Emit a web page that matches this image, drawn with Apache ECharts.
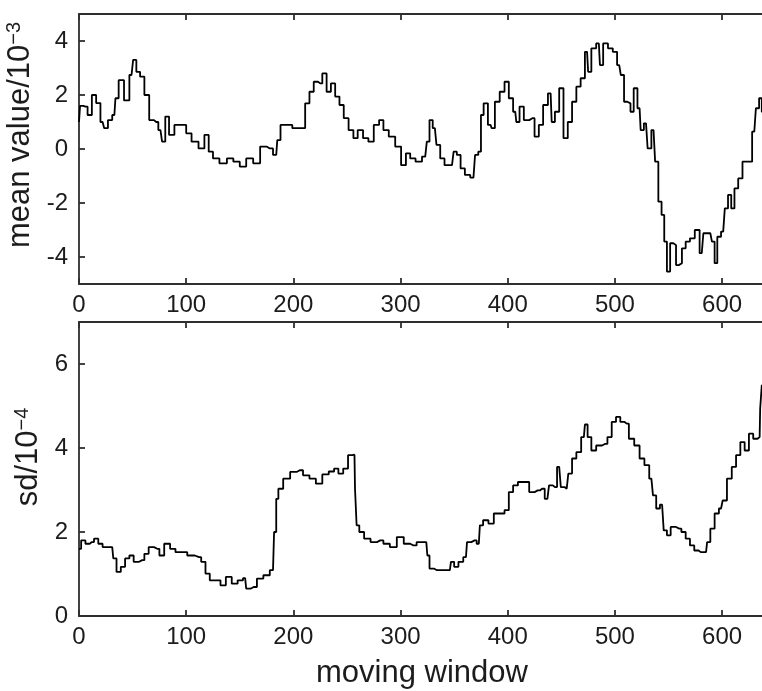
<!DOCTYPE html>
<html>
<head>
<meta charset="utf-8">
<script src="https://cdn.jsdelivr.net/npm/echarts@6/dist/echarts.min.js"></script>
<style>
html,body{margin:0;padding:0;background:#fff;}
#chart{width:762px;height:691px;}
</style>
</head>
<body>
<div id="chart"></div>
<script>
// ---- data ----
var xTicks = [0, 100, 200, 300, 400, 500, 600];
var meanTicks = [-4, -2, 0, 2, 4];
var sdTicks = [0, 2, 4, 6];

var meanX = [0,2,6,10,14,18,22,25,29,33,
  35,39,45,49,52,55,59,63,68,72,
  76,79,82,86,92,98,102,108,115,119,
  123,127,135,141,147,153,159,166,172,178,
  184,186,190,196,202,209,213,217,221,225,
  229,233,237,241,245,249,254,258,262,268,
  272,278,282,286,292,298,303,307,311,317,
  323,326,328,332,335,339,343,348,351,354,
  358,362,368,371,374,376,379,384,386,390,
  395,399,403,407,409,413,417,423,427,431,
  435,440,442,446,450,454,458,462,466,470,
  474,476,480,485,487,491,496,500,504,507,
  510,513,516,519,523,525,529,532,536,539,
  542,545,547,550,553,556,558,561,564,568,
  572,577,581,584,589,592,594,597,601,604,
  607,610,613,617,621,626,630,633,636,638,
  640];
var meanY = [1.0,1.6,1.57,1.26,2.0,1.7,1.0,0.77,1.07,1.26,
  1.88,2.55,1.8,2.74,3.3,2.86,2.68,2.0,1.07,1.0,
  0.7,0.27,1.2,0.52,0.89,0.89,0.58,0.27,0.02,0.52,
  -0.1,-0.35,-0.53,-0.35,-0.47,-0.65,-0.35,-0.53,0.09,0.02,
  -0.22,0.33,0.89,0.89,0.77,0.77,1.69,2.12,2.49,2.43,
  2.8,2.12,2.43,1.94,1.63,1.14,0.7,0.4,0.7,0.4,
  0.27,0.89,1.07,0.7,0.46,0.09,-0.6,-0.16,-0.35,-0.47,
  -0.28,0.27,1.07,0.77,0.15,-0.35,-0.6,-0.6,-0.1,-0.22,
  -0.72,-0.96,-1.06,-0.22,-0.1,1.26,1.69,0.89,0.77,1.75,
  2.12,2.49,1.88,1.38,1.0,1.57,1.07,1.14,0.46,0.89,
  1.63,2.06,1.0,1.38,2.25,0.4,1.0,1.75,2.31,2.62,
  3.6,2.86,3.73,3.91,3.11,3.91,3.73,3.6,3.11,2.74,
  1.75,1.69,1.38,2.25,1.51,0.7,0.95,0.02,0.7,-0.47,
  -1.95,-2.44,-3.43,-4.54,-3.49,-3.56,-4.3,-4.23,-3.68,-3.43,
  -3.31,-3.0,-3.86,-3.12,-3.12,-3.43,-4.23,-3.25,-3.06,-2.2,
  -1.7,-2.2,-1.46,-1.09,-0.47,-0.47,0.64,1.51,1.88,1.38,
  -0.35];

var sdX = [0,4,8,12,16,20,24,31,33,37,
  41,45,49,53,59,63,67,73,77,82,
  88,92,98,104,112,116,120,124,130,134,
  140,145,151,155,157,163,169,175,181,183,
  185,187,194,200,206,212,218,224,230,236,
  240,244,249,253,257,258,260,263,269,275,
  281,287,293,300,306,312,318,324,326,328,
  334,340,346,348,352,356,361,363,369,373,
  375,379,385,389,395,399,403,407,412,418,
  422,428,432,437,440,444,448,451,455,458,
  462,466,471,473,476,480,485,491,495,499,
  503,507,511,515,521,525,530,534,537,540,
  544,547,550,554,560,564,568,572,576,580,
  585,587,591,595,599,602,607,611,615,619,
  623,627,631,635,636,638,640];
var sdY = [1.6,1.8,1.72,1.76,1.84,1.72,1.64,1.64,1.37,1.05,
  1.17,1.37,1.44,1.29,1.33,1.48,1.64,1.6,1.44,1.72,
  1.6,1.52,1.52,1.44,1.4,1.29,1.01,0.85,0.85,0.73,
  0.93,0.77,0.85,0.9,0.65,0.69,0.89,0.97,1.09,2.0,
  2.79,3.03,3.27,3.43,3.47,3.35,3.27,3.15,3.37,3.44,
  3.51,3.39,3.51,3.83,3.84,3.03,2.16,2.0,1.84,1.76,
  1.8,1.72,1.64,1.88,1.72,1.68,1.76,1.76,1.44,1.13,
  1.09,1.09,1.09,1.29,1.17,1.29,1.4,1.76,1.8,1.72,
  2.16,2.28,2.2,2.44,2.44,2.52,2.95,3.11,3.19,3.19,
  2.95,2.99,3.03,2.79,3.11,3.07,3.55,3.07,3.03,3.39,
  3.75,3.9,4.26,4.56,4.26,3.94,4.06,4.1,4.26,4.62,
  4.74,4.62,4.58,4.22,4.06,3.75,3.59,3.27,2.87,2.56,
  2.65,2.04,1.92,2.12,2.08,2.0,1.84,1.68,1.56,1.52,
  1.52,1.76,2.08,2.44,2.56,2.75,3.27,3.55,3.83,4.14,
  3.94,4.34,4.22,4.26,4.94,5.49,5.6];

function pairs(xs, ys) { return xs.map(function (x, i) { return [x, ys[i]]; }); }

var FONT = '"Liberation Sans", Arial, sans-serif';
var TXT = '#1c1c1c';
var AXC = '#2e2e2e';

function xAx(grid, pos, labels, extra) {
  var o = {
    type: 'value', gridIndex: grid, position: pos, min: 0, max: 640,
    axisLine: { show: true, onZero: false, lineStyle: { color: AXC, width: 1.8 } },
    axisTick: { show: true, inside: true, length: 6, customValues: xTicks, lineStyle: { color: AXC, width: 1.8 } },
    axisLabel: { show: labels, customValues: xTicks, margin: 9, fontSize: 24, fontFamily: FONT, color: TXT },
    splitLine: { show: false }
  };
  if (extra) for (var k in extra) o[k] = extra[k];
  return o;
}
function yAx(grid, min, max, ticks, extra) {
  var o = {
    type: 'value', gridIndex: grid, position: 'left', min: min, max: max,
    axisLine: { show: true, onZero: false, lineStyle: { color: AXC, width: 1.8 } },
    axisTick: { show: true, inside: true, length: 6, customValues: ticks, lineStyle: { color: AXC, width: 1.8 } },
    axisLabel: { show: true, customValues: ticks, margin: 11, fontSize: 24, fontFamily: FONT, color: TXT },
    splitLine: { show: false }
  };
  if (extra) for (var k in extra) o[k] = extra[k];
  return o;
}

var chart = echarts.init(document.getElementById('chart'), null, { renderer: 'canvas' });
chart.setOption({
  animation: false,
  backgroundColor: '#fff',
  grid: [
    { left: 79, right: -3, top: 14, height: 270, show: false, containLabel: false, outerBoundsMode: 'none' },
    { left: 79, right: -3, top: 322, height: 294, show: false, containLabel: false, outerBoundsMode: 'none' }
  ],
  xAxis: [
    xAx(0, 'bottom', true),
    xAx(0, 'top', false),
    xAx(1, 'bottom', true, {
      name: 'moving window', nameLocation: 'middle', nameGap: 42,
      nameTextStyle: { fontSize: 31, fontFamily: FONT, color: TXT }
    }),
    xAx(1, 'top', false)
  ],
  yAxis: [
    yAx(0, -5, 5, meanTicks, {
      name: '{a|mean value/10}{b|\u22123}', nameLocation: 'middle', nameRotate: 90, nameGap: 37,
      nameTextStyle: {
        fontSize: 31, fontFamily: FONT, color: TXT, padding: [0, 0, 0, 28],
        rich: {
          a: { fontSize: 31, fontFamily: FONT, color: TXT },
          b: { fontSize: 20, fontFamily: FONT, color: TXT, verticalAlign: 'top' }
        }
      }
    }),
    yAx(1, 0, 7, sdTicks, {
      name: '{a|sd/10}{b|\u22124}', nameLocation: 'middle', nameRotate: 90, nameGap: 30,
      nameTextStyle: {
        fontSize: 31, fontFamily: FONT, color: TXT, padding: [0, 0, 0, 24],
        rich: {
          a: { fontSize: 31, fontFamily: FONT, color: TXT },
          b: { fontSize: 20, fontFamily: FONT, color: TXT, verticalAlign: 'top' }
        }
      }
    })
  ],
  series: [
    {
      type: 'line', xAxisIndex: 0, yAxisIndex: 0, step: 'middle', showSymbol: false,
      data: pairs(meanX, meanY), lineStyle: { color: '#000', width: 1.8 }, silent: true
    },
    {
      type: 'line', xAxisIndex: 2, yAxisIndex: 1, step: 'middle', showSymbol: false,
      data: pairs(sdX, sdY), lineStyle: { color: '#000', width: 1.8 }, silent: true
    }
  ]
});
</script>
</body>
</html>
